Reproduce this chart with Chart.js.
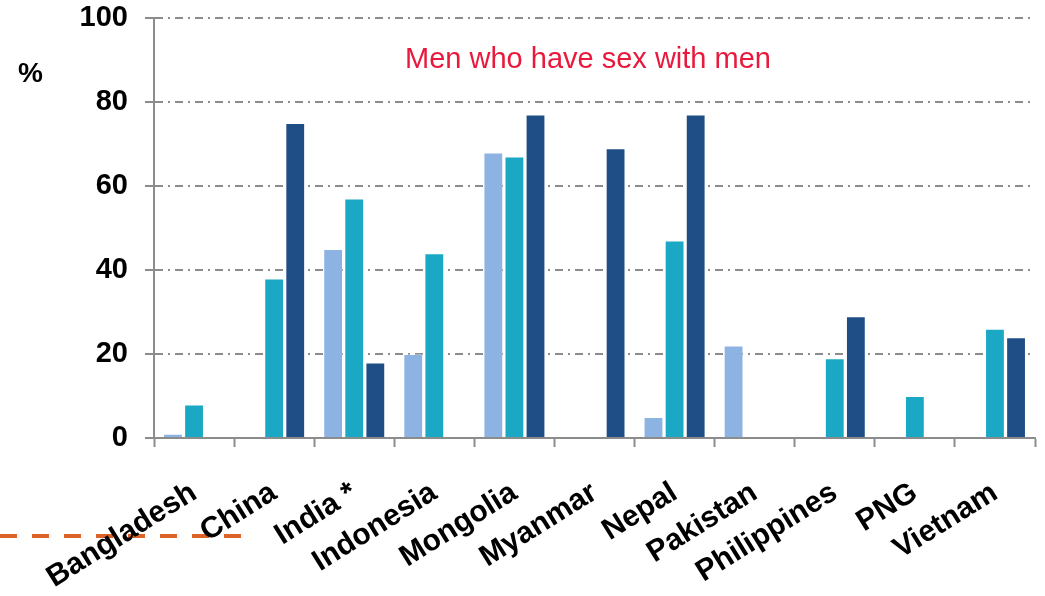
<!DOCTYPE html>
<html>
<head>
<meta charset="utf-8">
<title>Men who have sex with men</title>
<script src="https://cdn.jsdelivr.net/npm/chart.js@4.4.1/dist/chart.umd.min.js"></script>
<style>
  html, body { margin: 0; padding: 0; background: #ffffff; }
  #wrap { width: 1045px; height: 596px; position: relative; }
</style>
</head>
<body>
<div id="wrap"><canvas id="mainChart" width="1045" height="596"></canvas></div>
<script>
const countries = ["Bangladesh", "China", "India *", "Indonesia", "Mongolia", "Myanmar", "Nepal", "Pakistan", "Philippines", "PNG", "Vietnam"];
const seriesLight = [1, null, 45, 20, 68, null, 5, 22, null, null, null];
const seriesTeal = [8, 38, 57, 44, 67, null, 47, null, 19, 10, 26];
const seriesDark = [null, 75, 18, null, 77, 69, 77, null, 29, null, 24];
const yTicks = [0, 20, 40, 60, 80, 100];

const FONT = "'Liberation Sans', Arial, Helvetica, sans-serif";
const GRID_GRAY = "#8c8c8c";

// title, "%" label and the orange dashed stroke at the bottom left
const annotations = {
  id: "annotations",
  beforeDraw(chart) {
    const ctx = chart.ctx;
    ctx.save();
    ctx.strokeStyle = "#dc6327";
    ctx.lineWidth = 4;
    ctx.setLineDash([17, 15]);
    ctx.beginPath();
    ctx.moveTo(0, 536);
    ctx.lineTo(246, 536);
    ctx.stroke();
    ctx.restore();
  },
  afterDraw(chart) {
    const ctx = chart.ctx;
    ctx.save();
    ctx.fillStyle = "#e8193c";
    ctx.font = `29px ${FONT}`;
    ctx.textAlign = "center";
    ctx.textBaseline = "alphabetic";
    ctx.fillText("Men who have sex with men", 588, 68);
    ctx.fillStyle = "#000000";
    ctx.font = `bold 28px ${FONT}`;
    ctx.textAlign = "left";
    ctx.fillText("%", 18, 82);
    ctx.restore();
  }
};

function makeDataset(label, data, color) {
  return {
    label,
    data,
    backgroundColor: color,
    borderColor: "rgba(255,255,255,0.35)",
    borderWidth: 1,
    barPercentage: 0.94,
    categoryPercentage: 0.79
  };
}

new Chart(document.getElementById("mainChart"), {
  type: "bar",
  data: {
    labels: countries,
    datasets: [
      makeDataset("Series 1", seriesLight, "#8db3e2"),
      makeDataset("Series 2", seriesTeal, "#1ba8c5"),
      makeDataset("Series 3", seriesDark, "#1f4e86")
    ]
  },
  options: {
    responsive: false,
    animation: false,
    layout: { padding: { top: 18, right: 10, left: 0, bottom: 0 } },
    plugins: {
      legend: { display: false },
      tooltip: { enabled: false },
      title: { display: false }
    },
    scales: {
      x: {
        offset: true,
        afterFit(scale) {
          scale.height = 158;
          scale.paddingLeft = 0;
          scale.paddingRight = 0;
        },
        border: { display: true, color: GRID_GRAY, width: 2 },
        grid: {
          offset: true,
          drawOnChartArea: false,
          drawTicks: true,
          tickLength: 9,
          tickColor: GRID_GRAY,
          tickWidth: 2
        },
        ticks: {
          autoSkip: false,
          maxRotation: 32,
          minRotation: 32,
          padding: 28,
          color: "#000000",
          font: { family: FONT, size: 30, weight: "bold" }
        }
      },
      y: {
        min: 0,
        max: 100,
        afterFit(scale) {
          scale.width = 154;
          scale.paddingTop = 0;
          scale.paddingBottom = 0;
        },
        afterBuildTicks(scale) { scale.ticks = yTicks.map(v => ({ value: v })); },
        border: { display: true, color: GRID_GRAY, width: 2, dash: [8, 5, 2, 5] },
        grid: {
          color: GRID_GRAY,
          lineWidth: 2,
          drawTicks: true,
          tickLength: 9,
          tickColor: GRID_GRAY,
          tickWidth: 2,
          tickBorderDash: []
        },
        ticks: {
          padding: 17,
          color: "#000000",
          font: { family: FONT, size: 29, weight: "bold" }
        }
      }
    }
  },
  plugins: [annotations]
});
</script>
</body>
</html>
